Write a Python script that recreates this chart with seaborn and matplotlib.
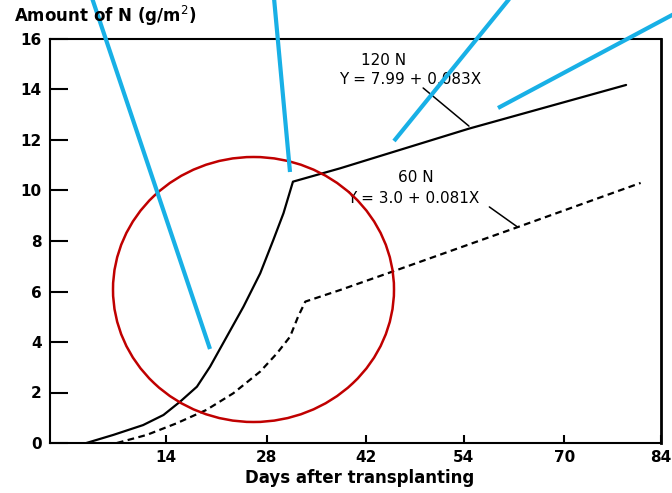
import matplotlib
matplotlib.use("Agg")
import matplotlib.pyplot as plt
import matplotlib.transforms as mtransforms
from matplotlib.patches import Ellipse
import pandas as pd
import seaborn as sns

# ---------------------------------------------------------------
# Data (x in drawn-axis units, 0..84)
# ---------------------------------------------------------------
days_120 = [5.0, 8.7, 12.8, 15.6, 17.9, 20.2, 22.0, 24.3, 26.6, 28.9, 30.7, 32.1, 33.4,
            39.9, 57.6, 79.2]
n_120 = [0.0, 0.32, 0.71, 1.11, 1.64, 2.23, 3.02, 4.21, 5.40, 6.72, 8.04, 9.10, 10.35,
         10.88, 12.45, 14.18]

days_60 = [9.2, 13.3, 17.4, 21.5, 25.2, 28.9, 31.2, 33.0, 34.1, 35.1, 39.9, 47.2, 64.3, 81.2]
n_60 = [0.0, 0.32, 0.78, 1.31, 1.97, 2.83, 3.55, 4.21, 5.0, 5.6, 6.06, 6.8, 8.55, 10.3]

x_tick_pos = [15.9, 29.8, 43.4, 56.9, 70.7, 84]
x_tick_labels = ["14", "28", "42", "54", "70", "84"]
y_ticks = [0, 2, 4, 6, 8, 10, 12, 14, 16]

label_120 = "120 N"
eq_120 = "Y = 7.99 + 0.083X"
label_60 = "60 N"
eq_60 = "Y = 3.0 + 0.081X"

df = pd.concat([
    pd.DataFrame({"days": days_120, "N": n_120, "rate": "120 N"}),
    pd.DataFrame({"days": days_60, "N": n_60, "rate": "60 N"}),
])

# ---------------------------------------------------------------
# Plot
# ---------------------------------------------------------------
sns.set_theme(style="white")
plt.rcParams["font.family"] = ["DejaVu Sans"]
plt.rcParams["text.color"] = "black"

fig = plt.figure(figsize=(6.72, 4.93), dpi=100)
ax = fig.add_axes([50 / 672, 50 / 493, 611 / 672, 404 / 493])

sns.lineplot(data=df[df.rate == "120 N"], x="days", y="N", color="black",
             linewidth=1.6, sort=False, estimator=None, ax=ax)
sns.lineplot(data=df[df.rate == "60 N"], x="days", y="N", color="black",
             linewidth=1.6, sort=False, estimator=None,
             linestyle=(0, (3, 2)), ax=ax)

ax.set_xlim(0, 84)
ax.set_ylim(0, 16)
ax.set_xticks(x_tick_pos)
ax.set_xticklabels(x_tick_labels, fontweight="bold", fontsize=11)
ax.set_yticks(y_ticks)
ax.set_yticklabels([str(v) for v in y_ticks], fontweight="bold", fontsize=11)
ax.tick_params(axis="y", left=True, direction="in", length=13, width=1.5, pad=6,
               colors="black")
ax.tick_params(axis="x", bottom=True, direction="in", length=6, width=1.5, pad=5,
               colors="black")
ax.set_xlabel("")
ax.set_ylabel("")
for side, sp in ax.spines.items():
    sp.set_color("black")
    sp.set_linewidth(2.0 if side == "right" else 1.5)

fig.text(14 / 672, 1 - 16 / 493, "Amount of N (g/m$^2$)", fontsize=12,
         fontweight="bold", ha="left", va="center")
fig.text(360 / 672, 1 - 478 / 493, "Days after transplanting", fontsize=12,
         fontweight="bold", ha="center", va="center")

# curve labels with leader lines
ax.text(45.8, 15.13, label_120, ha="center", va="center", fontsize=11)
ax.text(49.5, 14.38, eq_120, ha="center", va="center", fontsize=11)
ax.plot([51.3, 57.6], [14.06, 12.55], color="black", linewidth=1.1)
ax.text(50.3, 10.5, label_60, ha="center", va="center", fontsize=11)
ax.text(49.9, 9.7, eq_60, ha="center", va="center", fontsize=11)
ax.plot([60.4, 64.3], [9.35, 8.55], color="black", linewidth=1.1)

# overlay marks drawn in pixel coordinates of the 672x493 image
px = mtransforms.Affine2D().scale(1 / 672, -1 / 493).translate(0, 1) + fig.transFigure
blue = "#18b0e6"
blue_lines = [
    ((210, 349), (92, -2)),
    ((290, 172), (274, -2)),
    ((394, 141), (510, -2)),
    ((498, 108), (674, 14)),
]
for (x0, y0), (x1, y1) in blue_lines:
    fig.add_artist(plt.Line2D([x0, x1], [y0, y1], transform=px, color=blue,
                              linewidth=3.0, solid_capstyle="butt"))
fig.add_artist(Ellipse((253.5, 289.5), 281, 265, transform=px, fill=False,
                       edgecolor="#c00000", linewidth=1.8))

fig.savefig("out.png", dpi=100)
